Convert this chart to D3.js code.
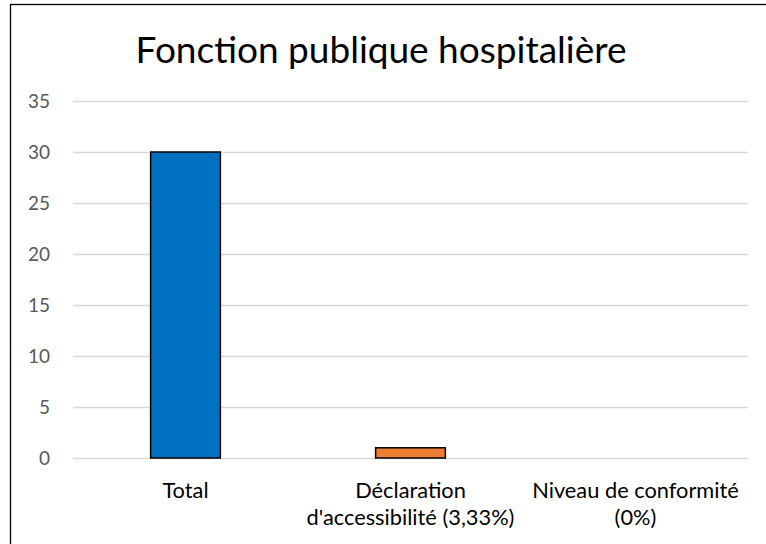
<!DOCTYPE html>
<html><head><meta charset="utf-8">
<script src="https://cdn.jsdelivr.net/npm/d3@7"></script>
<style>body{margin:0;background:#fff}svg{display:block}</style>
</head><body>
<script>
const categories = [["Total"], ["Déclaration", "d'accessibilité (3,33%)"], ["Niveau de conformité", "(0%)"]];
const values = [30, 1, 0];
const colors = ["#0070C0", "#ED7D31", "#A5A5A5"];
const yTicks = [0, 5, 10, 15, 20, 25, 30, 35];
const title = "Fonction publique hospitalière";

const W = 766, H = 544;
const svg = d3.select("body").append("svg").attr("width", W).attr("height", H);
svg.append("rect").attr("x", 10.5).attr("y", 4.5).attr("width", 800).attr("height", 600)
  .attr("fill", "#fff").attr("stroke", "#000").attr("stroke-width", 1.3);

const x = d3.scaleBand().domain(d3.range(categories.length)).range([73, 748]).paddingInner(0.69).paddingOuter(0.345);
const y = d3.scaleLinear().domain([0, 35]).range([458, 101]);

const font = "Lato, 'Open Sans', sans-serif";
svg.append("text").attr("x", 381).attr("y", 63).attr("text-anchor", "middle")
  .attr("font-family", font).attr("font-size", 37).attr("fill", "#000").text(title);

const g = svg.append("g");
g.selectAll("line.grid").data(yTicks).join("line").attr("class", "grid")
  .attr("x1", 73).attr("x2", 748).attr("y1", d => Math.round(y(d)) + 0.5).attr("y2", d => Math.round(y(d)) + 0.5)
  .attr("stroke", "#d9d9d9").attr("stroke-width", 1.3);
g.selectAll("text.yt").data(yTicks).join("text").attr("class", "yt")
  .attr("x", 50).attr("y", d => y(d)).attr("dy", "0.36em").attr("text-anchor", "end")
  .attr("font-family", font).attr("font-size", 19).attr("fill", "#595959").text(d => d);

g.selectAll("rect.bar").data(values.map((v, i) => ({v, i})).filter(d => d.v > 0)).join("rect").attr("class", "bar")
  .attr("x", d => x(d.i)).attr("width", x.bandwidth())
  .attr("y", d => y(d.v)).attr("height", d => y(0) - y(d.v))
  .attr("fill", d => colors[d.i]).attr("stroke", "#000").attr("stroke-width", 1.5);

categories.forEach((lines, i) => {
  const cx = x(i) + x.bandwidth() / 2;
  const t = g.append("text").attr("x", cx).attr("y", 498)
    .attr("text-anchor", "middle").attr("font-family", font).attr("font-size", 21.8).attr("fill", "#000");
  lines.forEach((l, k) => t.append("tspan").attr("x", cx).attr("dy", k ? 27 : 0).text(l));
});
</script>
</body></html>
